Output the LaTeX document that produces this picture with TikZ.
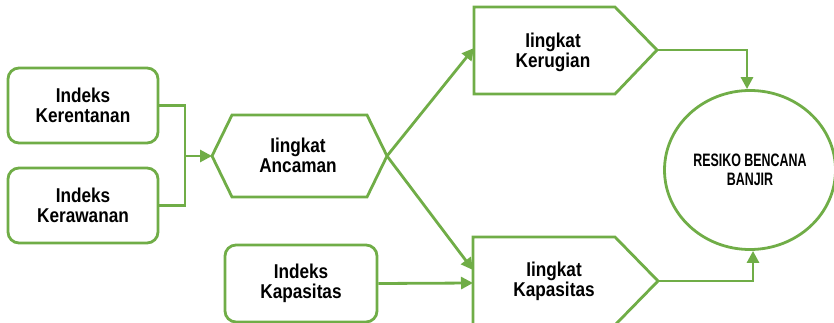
\documentclass[tikz,border=0pt]{standalone}
\usepackage{fontspec}
\setmainfont{Liberation Sans}
\newfontfamily\lblfont[FakeStretch=0.86]{Liberation Sans}
\newfontfamily\cirfont[FakeStretch=0.69]{Liberation Sans}
\usetikzlibrary{arrows.meta,shapes.geometric}
\definecolor{grn}{HTML}{70AD47}
\begin{document}
\begin{tikzpicture}[x=1pt,y=-1pt,
  line/.style={draw=grn,line width=2.8pt},
  arr/.style={line,-{Triangle[length=12pt,width=12pt]}},
  lbl/.style={font=\lblfont\bfseries\fontsize{20}{20}\selectfont,align=center,inner sep=0pt},
  rbox/.style={line,rounded corners=11pt,minimum width=150pt,minimum height=75pt,lbl},
  shp/.style={line,line join=miter}]
\useasboundingbox (0,0) rectangle (834,323);
% rounded boxes
\node[rbox] (ktn) at (83,105.5) {Indeks\\Kerentanan};
\node[rbox] (kwn) at (83,205.5) {Indeks\\Kerawanan};
\node[rbox,minimum width=152pt,minimum height=77pt] (ikp) at (301,283.5) {Indeks\\Kapasitas};
% hexagon Ancaman
\coordinate (ancL) at (212,156);
\coordinate (ancR) at (387,156);
\draw[shp] (ancL) -- (232,115) -- (367,115) -- (ancR) -- (367,197) -- (232,197) -- cycle;
\node[lbl] (anc) at (298,155) {Iingkat\\Ancaman};
% pentagon Kerugian
\coordinate (krgL) at (474,48);
\coordinate (krgR) at (657,50);
\draw[shp] (474,7) -- (615,7) -- (krgR) -- (615,94) -- (474,94) -- cycle;
\node[lbl] (krg) at (553,52) {Iingkat\\Kerugian};
% pentagon Kapasitas
\coordinate (kpsL) at (473,270);
\coordinate (kpsL2) at (473,283);
\coordinate (kpsR) at (658,281);
\draw[shp] (473,237) -- (615,237) -- (kpsR) -- (615,325) -- (473,325) -- cycle;
\node[lbl] (kps) at (554,281) {Iingkat\\Kapasitas};
% ellipse
\node[line,ellipse,minimum width=171pt,minimum height=159pt,inner sep=0pt,
  font=\cirfont\bfseries\fontsize{18}{19.5}\selectfont,align=center] (rb) at (750,170) {RESIKO BENCANA\\BANJIR};
% connectors
\coordinate (jn) at (185,156);
\draw[line] (ktn.east) -| (jn);
\draw[line] (kwn.east) -| (jn);
\draw[arr] (jn) -- (ancL);
\draw[arr] (ancR) -- (krgL);
\draw[arr] (ancR) -- (kpsL);
\draw[arr] (ikp.east) -- (kpsL2);
\draw[arr] (krgR) -| ([xshift=-3pt]rb.north);
\draw[arr] (kpsR) -| ([xshift=3pt]rb.south);
\end{tikzpicture}
\end{document}
